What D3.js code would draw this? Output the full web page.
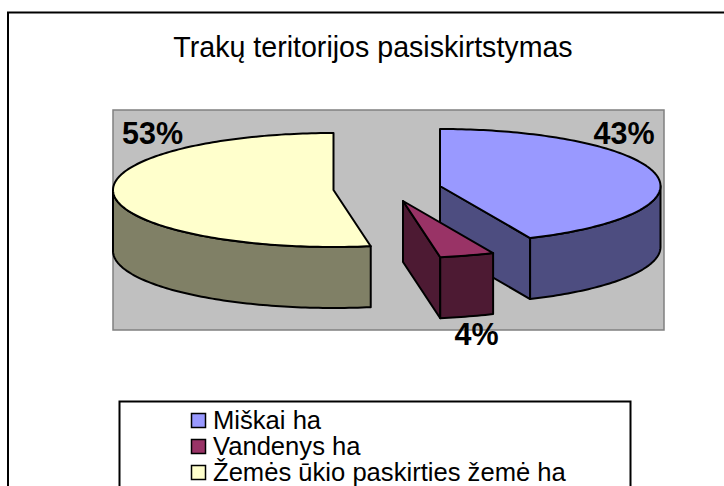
<!DOCTYPE html>
<html><head><meta charset="utf-8">
<script src="https://cdn.jsdelivr.net/npm/d3@7"></script>
<style>html,body{margin:0;padding:0;background:#fff;overflow:hidden}svg{display:block}text{font-family:"Liberation Sans",Arial,sans-serif;fill:#000}</style>
</head><body><svg id="c" width="724" height="486"></svg>
<script>
const categories = ["Miškai ha", "Vandenys ha", "Žemės ūkio paskirties žemė ha"];
const values = [43.3, 4.0, 52.7];
const labels = ["43%", "4%", "53%"];
const topColors = ["#9999FF", "#993366", "#FFFFCC"];
const sideColors = ["#4D4D80", "#4D1A33", "#808066"];
const title = "Trakų teritorijos pasiskirtstymas";

const svg = d3.select("#c");
const rx = 220.5, ry = 57, depth = 61;
const centers = [[440, 186], [403, 201], [333.5, 190]];
const labelPos = [[624, 144], [476.5, 345], [152.5, 144]];
const scaleX = d3.scaleLinear().domain([-1, 1]).range([-rx, rx]);
const scaleY = d3.scaleLinear().domain([-1, 1]).range([-ry, ry]);

// frame, plot area
svg.append("rect").attr("x", 8).attr("y", 12.5).attr("width", 760).attr("height", 520)
  .attr("fill", "#fff").attr("stroke", "#000").attr("stroke-width", 2);
svg.append("rect").attr("x", 113).attr("y", 110).attr("width", 551).attr("height", 220)
  .attr("fill", "#C0C0C0").attr("stroke", "#808080").attr("stroke-width", 1.5);
svg.append("text").attr("x", 373).attr("y", 57).attr("text-anchor", "middle")
  .attr("font-size", 28.6).text(title);

const pie = d3.pie().sort(null).value(d => d);
const arcs = pie(values);

const pt = (i, a, dz = 0) => [
  centers[i][0] + scaleX(Math.sin(a)),
  centers[i][1] - scaleY(Math.cos(a)) + dz
];
const line = d3.line();
function arcPts(i, a0, a1, dz) {
  const n = Math.max(2, Math.ceil(Math.abs(a1 - a0) / 0.02));
  return d3.range(n + 1).map(k => pt(i, a0 + (a1 - a0) * k / n, dz));
}
const HALF = Math.PI / 2, PI3 = 3 * Math.PI / 2;

arcs.forEach((d, i) => {
  const g = svg.append("g");
  const a0 = d.startAngle, a1 = d.endAngle;
  const style = (s, fill) => s.attr("fill", fill).attr("stroke", "#000")
    .attr("stroke-width", 2).attr("stroke-linejoin", "round");
  const c = centers[i];
  // cut face at the start edge, visible when it faces the viewer
  if (a0 > Math.PI && a0 < 2 * Math.PI) {
    const p = pt(i, a0);
    style(g.append("path").attr("d", line([c, p, [p[0], p[1] + depth], [c[0], c[1] + depth]]) + "Z"), sideColors[i]);
  }
  // cut face at the end edge
  if (a1 > 0 && a1 < Math.PI) {
    const p = pt(i, a1);
    style(g.append("path").attr("d", line([c, p, [p[0], p[1] + depth], [c[0], c[1] + depth]]) + "Z"), sideColors[i]);
  }
  // outer wall: the part of the rim on the near half of the ellipse
  const w0 = Math.max(a0, HALF), w1 = Math.min(a1, PI3);
  if (w1 > w0) {
    const upper = arcPts(i, w0, w1, 0);
    const lower = arcPts(i, w1, w0, depth);
    style(g.append("path").attr("d", line(upper.concat(lower)) + "Z"), sideColors[i]);
  }
  // top face
  style(g.append("path").attr("d", line([c].concat(arcPts(i, a0, a1, 0))) + "Z"), topColors[i]);
});

labels.forEach((t, i) => {
  svg.append("text").attr("x", labelPos[i][0]).attr("y", labelPos[i][1])
    .attr("text-anchor", "middle").attr("font-size", 30.5).attr("font-weight", "bold").text(t);
});

// legend
svg.append("rect").attr("x", 119.5).attr("y", 401.5).attr("width", 511).attr("height", 120)
  .attr("fill", "#fff").attr("stroke", "#000").attr("stroke-width", 2);
const legendY = d3.scalePoint().domain(categories).range([421, 473]);
categories.forEach((t, i) => {
  const y = legendY(t);
  svg.append("rect").attr("x", 191.5).attr("y", y - 7.5).attr("width", 14).attr("height", 14)
    .attr("fill", topColors[i]).attr("stroke", "#000").attr("stroke-width", 1.5);
  svg.append("text").attr("x", 213).attr("y", y + 8).attr("font-size", 25.6).text(t);
});
</script></body></html>
